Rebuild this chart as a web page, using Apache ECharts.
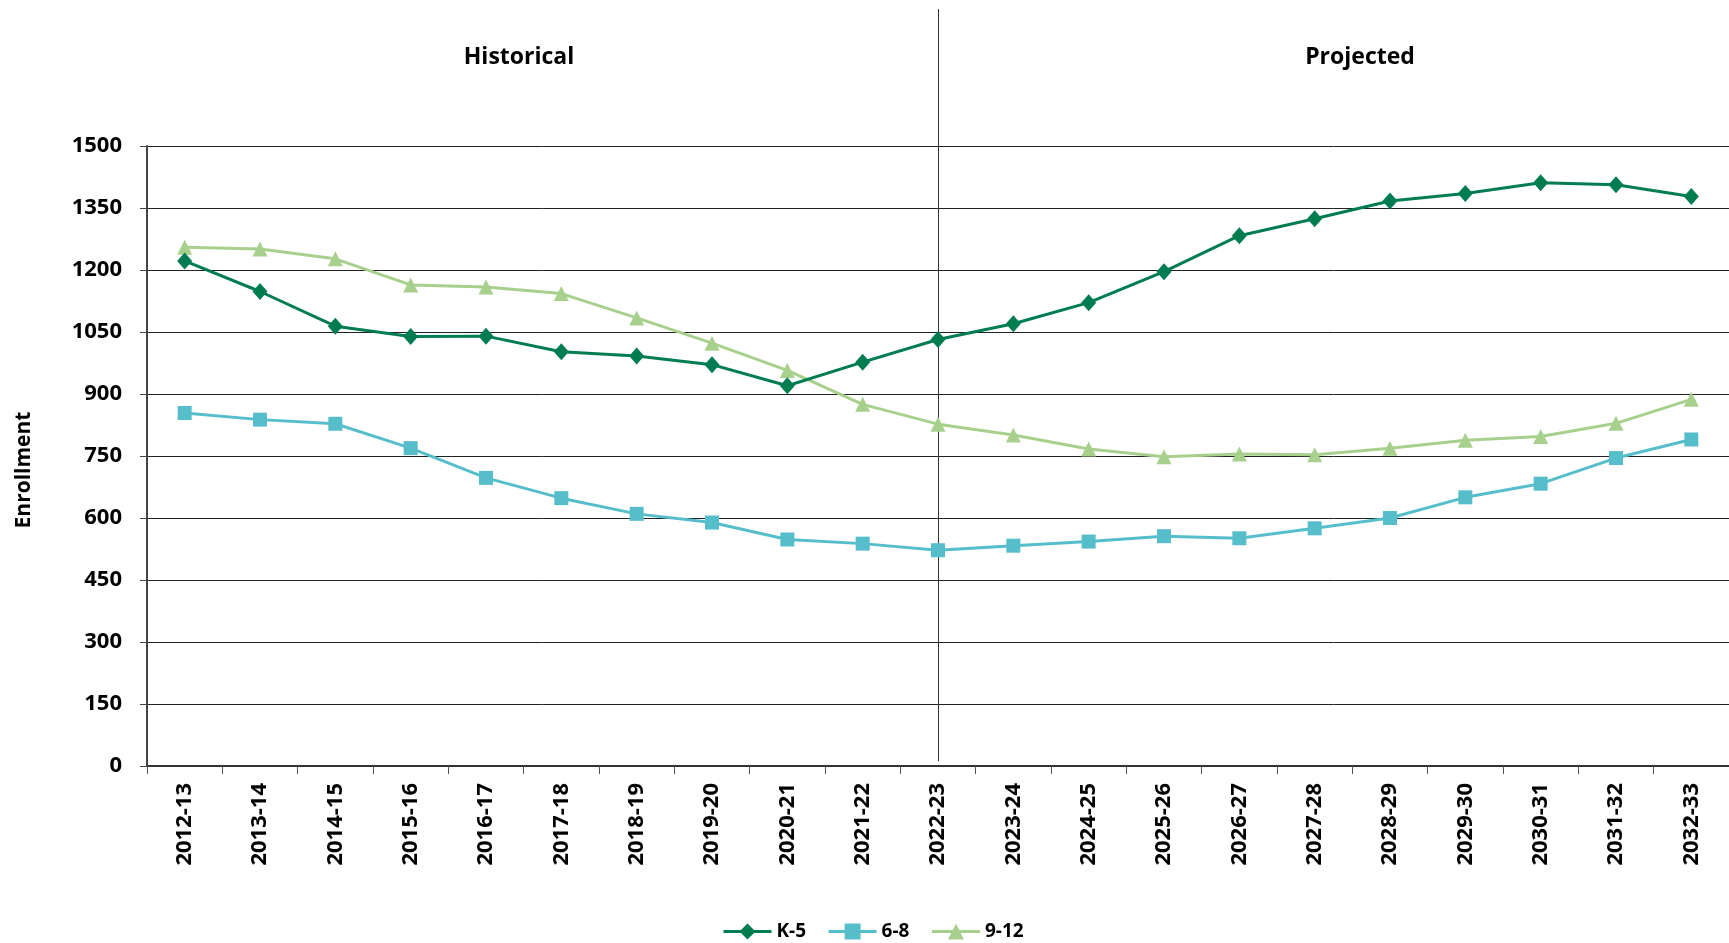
<!DOCTYPE html>
<html>
<head>
<meta charset="utf-8">
<script src="https://cdn.jsdelivr.net/npm/echarts@6/dist/echarts.min.js"></script>
<style>
html,body{margin:0;padding:0;background:#fff;}
#chart{width:1729px;height:943px;}
</style>
</head>
<body>
<div id="chart"></div>
<script>
const categories = ['2012-13','2013-14','2014-15','2015-16','2016-17','2017-18','2018-19','2019-20','2020-21','2021-22','2022-23','2023-24','2024-25','2025-26','2026-27','2027-28','2028-29','2029-30','2030-31','2031-32','2032-33'];
const k5 =   [1222,1148,1064,1039,1040,1002,992,971,920,977,1032,1070,1121,1196,1283,1324,1367,1385,1411,1406,1378];
const g68 =  [854,838,828,769,697,648,610,589,548,538,522,533,543,556,551,575,600,650,683,745,790];
const g912 = [1255,1251,1227,1164,1159,1143,1084,1023,957,875,827,801,767,748,755,753,769,788,797,829,887];
const yTicks = {min:0, max:1500, interval:150};
const dividerCategory = '2022-23';
const periodLabels = ['Historical','Projected'];

const FONT = '"Open Sans", "Noto Sans", sans-serif';
const chart = echarts.init(document.getElementById('chart'));

chart.setOption({
  animation:false,
  backgroundColor:'#fff',
  title:[
    {text:periodLabels[0], left:514, top:41, textAlign:'center',
     textStyle:{fontFamily:FONT, fontWeight:'bold', fontSize:23, color:'#000'}},
    {text:periodLabels[1], left:1355, top:41, textAlign:'center',
     textStyle:{fontFamily:FONT, fontWeight:'bold', fontSize:23, color:'#000'}}
  ],
  grid:{left:147, top:146, width:1584, height:620},
  legend:{
    left:717, top:917, itemWidth:48, itemHeight:20, itemGap:21,
    lineStyle:{width:3},
    textStyle:{fontFamily:FONT, fontWeight:'bold', fontSize:19, color:'#000'},
    data:['K-5','6-8','9-12']
  },
  xAxis:{
    type:'category', data:categories, boundaryGap:true,
    axisLine:{lineStyle:{color:'#333', width:2}},
    axisTick:{show:true, alignWithLabel:false, length:8, lineStyle:{color:'#555'}},
    axisLabel:{rotate:90, margin:17, interval:0, fontFamily:FONT, fontWeight:'bold', fontSize:22, color:'#000'},
    splitLine:{show:false}
  },
  yAxis:{
    type:'value', min:yTicks.min, max:yTicks.max, interval:yTicks.interval,
    name:'Enrollment', nameLocation:'middle', nameGap:112,
    nameTextStyle:{fontFamily:FONT, fontWeight:'bold', fontSize:21, color:'#000', padding:[0,28,0,0]},
    axisLine:{show:true, lineStyle:{color:'#444', width:2}},
    axisTick:{show:true, length:7, lineStyle:{color:'#444'}},
    axisLabel:{margin:25, fontFamily:FONT, fontWeight:'bold', fontSize:22, color:'#000',
      formatter:function(v){return String(v);}},
    splitLine:{lineStyle:{color:'#222', width:1}}
  },
  series:[
    {name:'K-5', type:'line', data:k5, symbol:'diamond', symbolSize:[15,17],
     lineStyle:{width:3, color:'#007D50'}, itemStyle:{color:'#007D50'}, z:4},
    {name:'6-8', type:'line', data:g68, symbol:'rect', symbolSize:14,
     lineStyle:{width:3, color:'#56BECB'}, itemStyle:{color:'#56BECB'}, z:3},
    {name:'9-12', type:'line', data:g912, symbol:'triangle', symbolSize:15,
     lineStyle:{width:3, color:'#A8D08D'}, itemStyle:{color:'#A8D08D'}, z:2}
  ]
});

// vertical divider between historical and projected periods, placed via the category axis
const dx = Math.round(chart.convertToPixel({xAxisIndex:0}, dividerCategory)) + 0.5;
chart.setOption({
  graphic:[{type:'line', silent:true, z:1,
    shape:{x1:dx, y1:9, x2:dx, y2:761},
    style:{stroke:'#333', lineWidth:1}}]
});
</script>
</body>
</html>
